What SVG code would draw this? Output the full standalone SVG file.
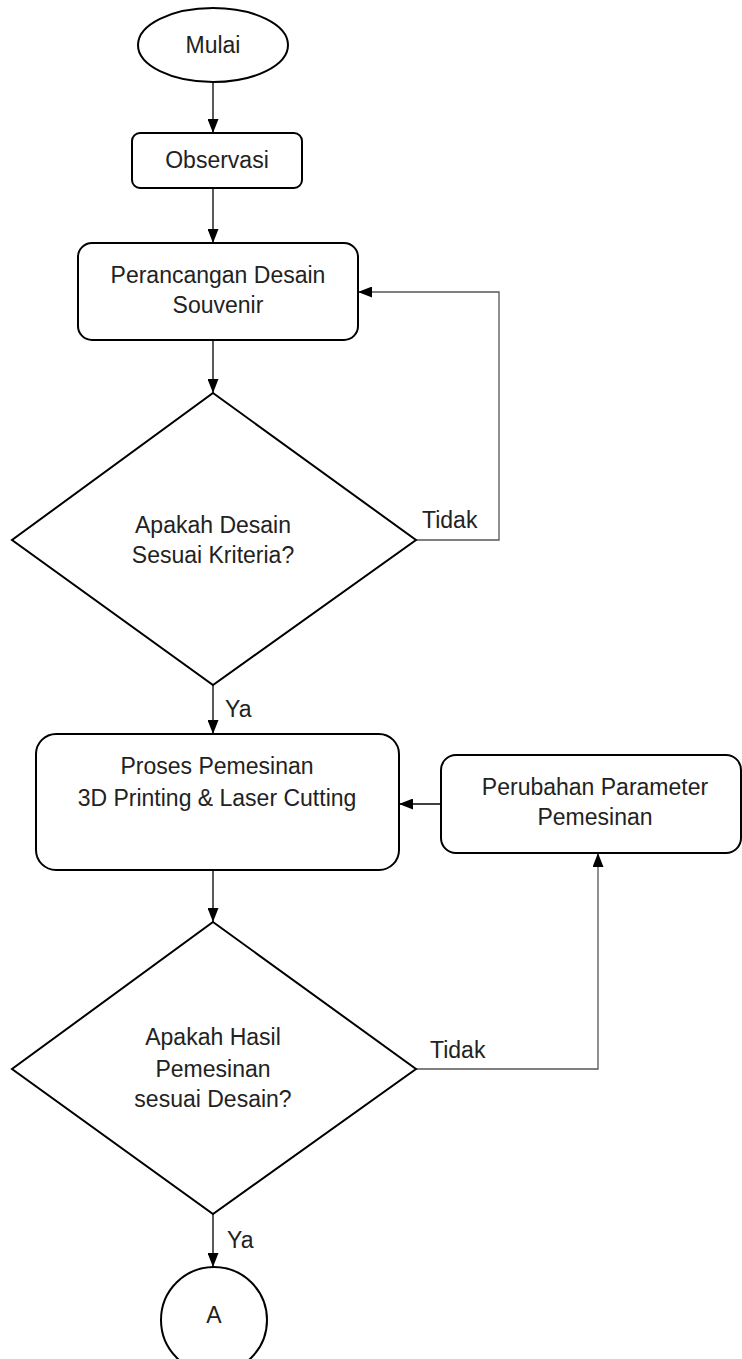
<svg xmlns="http://www.w3.org/2000/svg" width="742" height="1359" viewBox="0 0 742 1359">
<style>
.shape{fill:#fff;stroke:#000;stroke-width:2}
.t{font-family:"Liberation Sans",Arial,sans-serif;font-size:23px;fill:#222;text-anchor:middle}
.lbl{font-family:"Liberation Sans",Arial,sans-serif;font-size:23px;fill:#222}
.c{fill:none;stroke:#000;stroke-width:1.3}
.cg{fill:none;stroke:#555;stroke-width:1.3}
</style>
<defs>
<marker id="ah" viewBox="0 0 14 11" refX="14" refY="5.5" markerWidth="14" markerHeight="11" markerUnits="userSpaceOnUse" orient="auto">
<path d="M0,0 L14,5.5 L0,11 Z" fill="#000"/>
</marker>
</defs>
<rect width="742" height="1359" fill="#fff"/>
<g id="connectors">
<line class="c" x1="213" y1="82" x2="213" y2="133" marker-end="url(#ah)"/>
<line class="c" x1="213" y1="188" x2="213" y2="243" marker-end="url(#ah)"/>
<line class="c" x1="213" y1="340" x2="213" y2="393" marker-end="url(#ah)"/>
<polyline class="cg" points="416,540 499,540 499,292 358,292" marker-end="url(#ah)"/>
<line class="c" x1="213" y1="685" x2="213" y2="734" marker-end="url(#ah)"/>
<line class="c" x1="441" y1="804" x2="399" y2="804" marker-end="url(#ah)"/>
<line class="c" x1="213" y1="870" x2="213" y2="922" marker-end="url(#ah)"/>
<polyline class="cg" points="416,1069 598,1069 598,853" marker-end="url(#ah)"/>
<line class="c" x1="213" y1="1214" x2="213" y2="1267" marker-end="url(#ah)"/>
<text class="lbl" x="422" y="528">Tidak</text>
<text class="lbl" x="225" y="717">Ya</text>
<text class="lbl" x="430" y="1058">Tidak</text>
<text class="lbl" x="227" y="1248">Ya</text>
</g>
<g id="mulai">
<ellipse class="shape" cx="213" cy="45" rx="75" ry="37"/>
<text class="t" x="213" y="53">Mulai</text>
</g>
<g id="observasi">
<rect class="shape" x="132" y="133" width="170" height="55" rx="8"/>
<text class="t" x="217" y="168">Observasi</text>
</g>
<g id="perancangan">
<rect class="shape" x="78" y="243" width="280" height="97" rx="14"/>
<text class="t" x="218" y="283">Perancangan Desain</text>
<text class="t" x="218" y="313">Souvenir</text>
</g>
<g id="kriteria">
<polygon class="shape" points="213,393 416,540 213,685 12,540"/>
<text class="t" x="213" y="533">Apakah Desain</text>
<text class="t" x="213" y="563">Sesuai Kriteria?</text>
</g>
<g id="proses">
<rect class="shape" x="36" y="734" width="363" height="136" rx="20"/>
<text class="t" x="217" y="774">Proses Pemesinan</text>
<text class="t" x="217" y="806">3D Printing &amp; Laser Cutting</text>
</g>
<g id="perubahan">
<rect class="shape" x="441" y="755" width="300" height="98" rx="15"/>
<text class="t" x="595" y="795">Perubahan Parameter</text>
<text class="t" x="595" y="825">Pemesinan</text>
</g>
<g id="hasil">
<polygon class="shape" points="213,922 416,1069 213,1214 12,1069"/>
<text class="t" x="213" y="1045">Apakah Hasil</text>
<text class="t" x="213" y="1077">Pemesinan</text>
<text class="t" x="213" y="1107">sesuai Desain?</text>
</g>
<g id="a">
<circle class="shape" cx="214" cy="1320" r="53"/>
<text class="t" x="214" y="1323">A</text>
</g>
</svg>
